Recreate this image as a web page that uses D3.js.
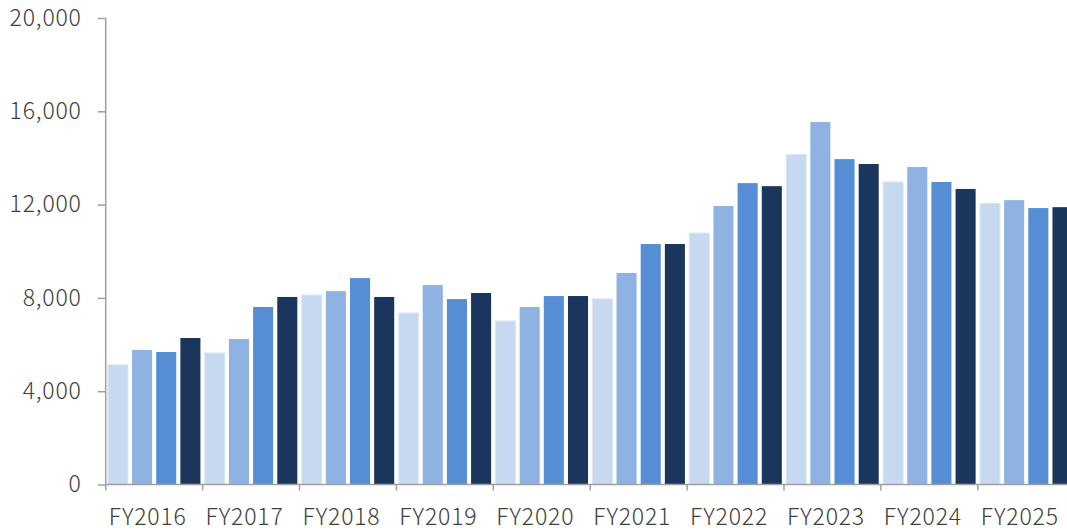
<!DOCTYPE html>
<html><head><meta charset="utf-8">
<script src="https://cdn.jsdelivr.net/npm/d3@7"></script>
<style>html,body{margin:0;padding:0;background:#fff;overflow:hidden}</style>
</head><body>
<svg id="c" width="1067" height="530"></svg>
<script>
const categories = ["FY2016","FY2017","FY2018","FY2019","FY2020","FY2021","FY2022","FY2023","FY2024","FY2025"];
const seriesNames = ["Q1","Q2","Q3","Q4"];
const q1 = [5130, 5640, 8120, 7350, 7010, 7960, 10780, 14150, 12970, 12050];
const q2 = [5770, 6240, 8290, 8550, 7610, 9070, 11940, 15540, 13610, 12190];
const q3 = [5680, 7610, 8850, 7950, 8080, 10310, 12920, 13950, 12970, 11850];
const q4 = [6280, 8040, 8040, 8210, 8080, 10310, 12790, 13740, 12670, 11890];
const yTicks = [0, 4000, 8000, 12000, 16000, 20000];
const colors = ["#C7D9F0", "#8EB3E2", "#558ED5", "#1A365D"];

const series = [q1, q2, q3, q4];
const svg = d3.select("#c");
const mLeft = 105.7, mBottom = 484.5, mTop = 18, groupW = 96.9;
const x = d3.scaleBand().domain(categories).range([mLeft, mLeft + groupW * categories.length]).padding(0);
const xi = d3.scaleBand().domain(seriesNames).range([0, x.bandwidth()]).paddingInner(0.17).paddingOuter(0.09);
const y = d3.scaleLinear().domain([0, 20000]).range([mBottom, mTop]);
const font = "'Noto Sans CJK JP','Noto Sans',sans-serif";

// bars
categories.forEach((c, i) => {
  series.forEach((s, j) => {
    svg.append("rect")
      .attr("x", x(c) + xi(seriesNames[j]))
      .attr("y", y(s[i]))
      .attr("width", xi.bandwidth())
      .attr("height", mBottom - y(s[i]))
      .attr("fill", colors[j])
      .attr("stroke", j === 0 ? "#DCE7F5" : "none")
      .attr("stroke-width", j === 0 ? 1 : 0);
  });
});

// y axis
const yAxis = d3.axisLeft(y).tickValues(yTicks).tickSize(8).tickFormat(d3.format(","));
const gy = svg.append("g").attr("transform", `translate(${mLeft},0)`).call(yAxis);
gy.select(".domain").attr("stroke", "#A0A0A0").attr("stroke-width", 1.5).attr("d", `M0,${mTop}V${mBottom}`);
gy.selectAll(".tick line").attr("stroke", "#A0A0A0").attr("stroke-width", 1.5);
gy.selectAll(".tick text").attr("font-family", font).attr("font-size", 23).attr("font-weight", 300)
  .attr("letter-spacing", 0.8).attr("fill", "#404040").attr("x", -24);

// x axis
const gx = svg.append("g").attr("transform", `translate(0,${mBottom})`);
gx.append("line").attr("x1", mLeft).attr("x2", 1067).attr("y1", 0).attr("y2", 0)
  .attr("stroke", "#A0A0A0").attr("stroke-width", 1.5);
categories.forEach(c => {
  gx.append("line").attr("x1", x(c)).attr("x2", x(c)).attr("y1", 0).attr("y2", 6)
    .attr("stroke", "#A0A0A0").attr("stroke-width", 1.5);
  gx.append("text").attr("x", x(c) + x.bandwidth() / 2 - 6.5).attr("y", 40)
    .attr("text-anchor", "middle").attr("font-family", font).attr("font-size", 23).attr("font-weight", 300)
    .attr("letter-spacing", 0.8).attr("fill", "#404040").text(c);
});
</script>
</body></html>
